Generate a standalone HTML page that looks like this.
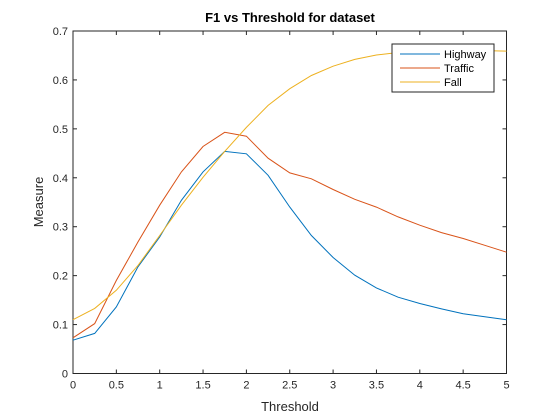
<!DOCTYPE html>
<html><head><meta charset="utf-8"><style>
body{margin:0;background:#fff;}
svg{display:block;font-family:"Liberation Sans",Arial,sans-serif;}
</style></head><body>
<svg id="chart" width="560" height="420" viewBox="0 0 560 420">
<rect x="0" y="0" width="560" height="420" fill="#fff"/>
<text x="290" y="22" text-anchor="middle" font-size="13" font-weight="bold" fill="#000">F1 vs Threshold for dataset</text>
<g id="axes"></g>
<g id="series"></g>
<text x="290" y="411" text-anchor="middle" font-size="13" fill="#262626">Threshold</text>
<text transform="translate(43,202) rotate(-90)" text-anchor="middle" font-size="13" fill="#262626">Measure</text>
<g>
<rect x="392" y="44" width="102" height="48" fill="#fff" stroke="#262626" stroke-width="1"/>
<line x1="400" y1="54" x2="440" y2="54" stroke="#0072BD"/>
<text x="444" y="58" font-size="11">Highway</text>
<line x1="400" y1="68" x2="440" y2="68" stroke="#D95319"/>
<text x="444" y="72" font-size="11">Traffic</text>
<line x1="400" y1="82" x2="440" y2="82" stroke="#EDB120"/>
<text x="444" y="86" font-size="11">Fall</text>
</g>
</svg>
<script>
const thresholds=[0,0.25,0.5,0.75,1,1.25,1.5,1.75,2,2.25,2.5,2.75,3,3.25,3.5,3.75,4,4.25,4.5,4.75,5];
const highway=[0.068,0.082,0.136,0.218,0.279,0.354,0.412,0.454,0.449,0.405,0.340,0.282,0.237,0.201,0.175,0.156,0.143,0.132,0.122,0.116,0.110];
const traffic=[0.073,0.102,0.190,0.269,0.344,0.412,0.464,0.493,0.485,0.440,0.410,0.398,0.376,0.356,0.340,0.320,0.303,0.288,0.276,0.262,0.248];
const fall=[0.110,0.133,0.170,0.221,0.282,0.344,0.401,0.454,0.503,0.548,0.582,0.609,0.628,0.642,0.651,0.656,0.659,0.660,0.660,0.660,0.659];
const xTicks=[0,0.5,1,1.5,2,2.5,3,3.5,4,4.5,5];
const yTicks=[0,0.1,0.2,0.3,0.4,0.5,0.6,0.7];
const L=73,R=506.5,T=31,B=373.5;
function sx(v){return L+(v-0)/5*(R-L);}
function sy(v){return B-(v-0)/0.7*(B-T);}
const NS='http://www.w3.org/2000/svg';
const axes=document.getElementById('axes');
function mk(tag,attrs,parent){const e=document.createElementNS(NS,tag);for(const k in attrs)e.setAttribute(k,attrs[k]);parent.appendChild(e);return e;}
const box=mk('rect',{x:L,y:T,width:R-L,height:B-T,fill:'none',stroke:'#262626','stroke-width':1},axes);


xTicks.forEach(t=>{
  const x=sx(t);
  mk('line',{x1:x,y1:B,x2:x,y2:B-4,stroke:'#262626'},axes);
  mk('line',{x1:x,y1:T,x2:x,y2:T+4,stroke:'#262626'},axes);
  const tx=mk('text',{x:x,y:B+15,'text-anchor':'middle','font-size':11,fill:'#262626'},axes);
  tx.textContent=String(t);
  
  
});
yTicks.forEach(t=>{
  const y=sy(t);
  mk('line',{x1:L,y1:y,x2:L+4,y2:y,stroke:'#262626'},axes);
  mk('line',{x1:R,y1:y,x2:R-4,y2:y,stroke:'#262626'},axes);
  const tx=mk('text',{x:L-5,y:y+4,'text-anchor':'end','font-size':11,fill:'#262626'},axes);
  tx.textContent=String(t);
  
  
});
const sg=document.getElementById('series');
function line(vals,color,name){
  const pts=vals.map((v,i)=>sx(thresholds[i]).toFixed(1)+','+sy(v).toFixed(1)).join(' ');
  const p=mk('polyline',{points:pts,fill:'none',stroke:color,'stroke-width':1},sg);
  
  
}
line(highway,'#0072BD','highway-line');
line(traffic,'#D95319','traffic-line');
line(fall,'#EDB120','fall-line');
</script>
</body></html>
